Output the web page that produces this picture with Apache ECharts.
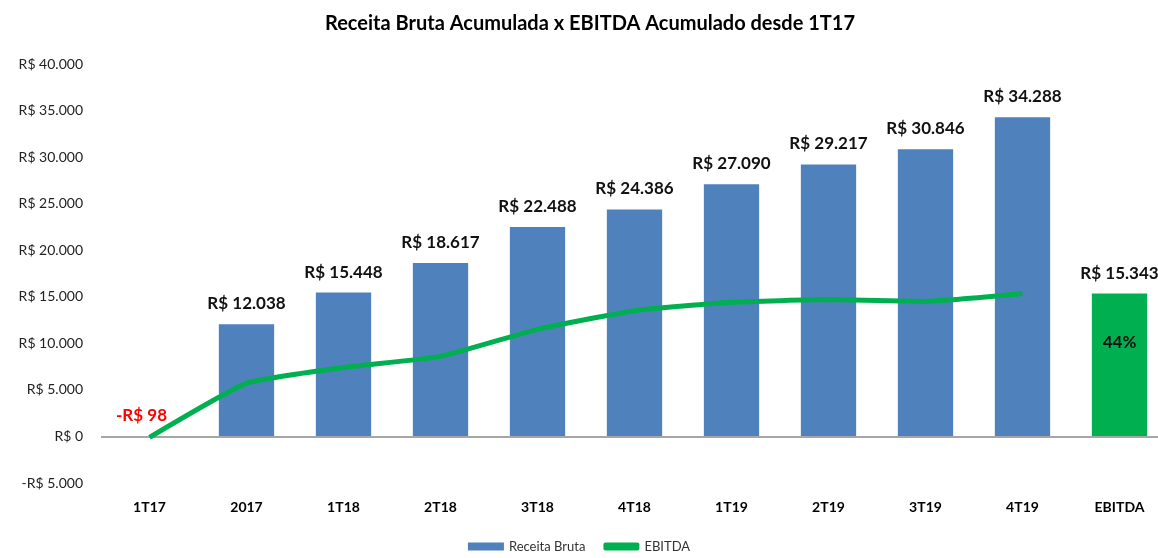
<!DOCTYPE html>
<html>
<head>
<meta charset="utf-8">
<script src="https://cdn.jsdelivr.net/npm/echarts@6/dist/echarts.min.js"></script>
<style>
  html, body { margin: 0; padding: 0; background: #fff; }
  #chart { width: 1158px; height: 558px; }
</style>
</head>
<body>
<div id="chart"></div>
<script>
// categorias e valores (R$ mil)
var categorias = ['1T17', '2017', '1T18', '2T18', '3T18', '4T18', '1T19', '2T19', '3T19', '4T19', 'EBITDA']
var receitaBruta = [-98, 12038, 15448, 18617, 22488, 24386, 27090, 29217, 30846, 34288, null]
var ebitdaAcum = [-98, 5700, 7400, 8600, 11500, 13500, 14400, 14700, 14500, 15343, null]
var ebitdaTotal = [null, null, null, null, null, null, null, null, null, null, 15343]
var margemEbitda = '44%'

function fmt (v) {
  var s = Math.abs(v).toString().replace(/\B(?=(\d{3})+(?!\d))/g, '.')
  return (v < 0 ? '-' : '') + 'R$ ' + s
}

var fonte = 'Lato'
var myChart = echarts.init(document.getElementById('chart'))

var option = {
  animation: false,
  title: {
    text: 'Receita Bruta Acumulada x EBITDA Acumulado desde 1T17',
    left: 585,
    textAlign: 'center',
    top: 9,
    textStyle: { fontFamily: fonte, fontSize: 20, fontWeight: 'bold', color: '#000' }
  },
  legend: {
    bottom: 0,
    left: 'center',
    itemGap: 18,
    itemWidth: 36,
    itemHeight: 8,
    textStyle: { fontFamily: fonte, fontSize: 13, color: '#333' },
    data: [
      { name: 'Receita Bruta', icon: 'rect' },
      { name: 'EBITDA', icon: 'roundRect' }
    ]
  },
  grid: { left: 101, width: 1067, top: 64, bottom: 75, outerBoundsMode: 'none', containLabel: false },
  xAxis: {
    type: 'category',
    data: categorias,
    axisLine: { show: false, onZero: false },
    axisTick: { show: false },
    axisLabel: { margin: 17, fontFamily: fonte, fontSize: 14, fontWeight: 'bold', color: '#000' }
  },
  yAxis: {
    type: 'value',
    min: -5000,
    max: 40000,
    interval: 5000,
    splitLine: { show: false },
    axisLine: { show: false },
    axisLabel: {
      margin: 18,
      fontFamily: fonte,
      fontSize: 14,
      color: '#222',
      formatter: fmt
    }
  },
  series: [
    {
      name: 'Receita Bruta',
      type: 'bar',
      barWidth: '57%',
      itemStyle: { color: '#4F81BD' },
      label: {
        show: true,
        position: 'top',
        distance: 12,
        fontFamily: fonte,
        fontSize: 17,
        fontWeight: 'bold',
        color: '#111',
        formatter: function (p) { return fmt(p.value) }
      },
      data: receitaBruta.map(function (v) {
        if (v !== null && v < 0) {
          return { value: v, label: { color: '#FF0000', offset: [-8, 0] } }
        }
        return v
      }),
      markLine: {
        silent: true,
        symbol: 'none',
        label: { show: false },
        lineStyle: { color: '#A6A6A6', type: 'solid', width: 2 },
        data: [{ yAxis: 0 }]
      }
    },
    {
      name: 'EBITDA total',
      type: 'bar',
      barWidth: '57%',
      barGap: '-100%',
      itemStyle: { color: '#00B050' },
      label: {
        show: true,
        position: 'top',
        distance: 12,
        fontFamily: fonte,
        fontSize: 17,
        fontWeight: 'bold',
        color: '#111',
        formatter: function (p) { return fmt(p.value) }
      },
      data: ebitdaTotal
    },
    {
      name: 'Margem',
      type: 'bar',
      barWidth: '57%',
      barGap: '-100%',
      itemStyle: { color: 'transparent' },
      label: {
        show: true,
        position: 'insideTop',
        distance: 40,
        fontFamily: fonte,
        fontSize: 17,
        fontWeight: 'bold',
        color: '#111',
        formatter: function () { return margemEbitda }
      },
      data: ebitdaTotal
    },
    {
      name: 'EBITDA',
      type: 'line',
      smooth: 0.15,
      symbol: 'none',
      lineStyle: { color: '#00B050', width: 5 },
      itemStyle: { color: '#00B050' },
      z: 5,
      data: ebitdaAcum
    }
  ]
}

myChart.setOption(option)
</script>
</body>
</html>
